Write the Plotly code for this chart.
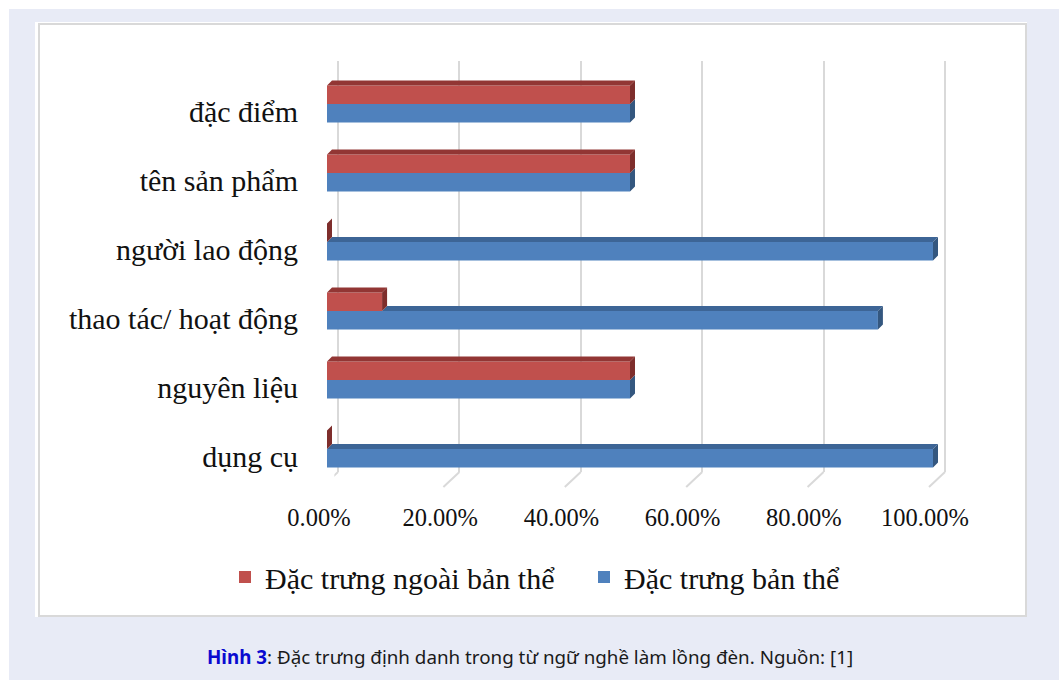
import plotly.graph_objects as go

# ---------------- data ----------------
categories = ["dụng cụ", "nguyên liệu", "thao tác/ hoạt động",
              "người lao động", "tên sản phẩm", "đặc điểm"]
ban_the = [100.0, 50.0, 90.91, 100.0, 50.0, 50.0]        # Đặc trưng bản thể
ngoai_ban_the = [0.0, 50.0, 9.09, 0.0, 50.0, 50.0]      # Đặc trưng ngoài bản thể
tick_values = [0, 20, 40, 60, 80, 100]
tick_labels = ["0.00%", "20.00%", "40.00%", "60.00%", "80.00%", "100.00%"]
name_blue = "Đặc trưng bản thể"
name_red = "Đặc trưng ngoài bản thể"
caption = ("<span style='color:#0A0AD0'><b>Hình 3</b></span>: Đặc trưng định danh "
           "trong từ ngữ nghề làm lồng đèn. Nguồn: [1]")

# ---------------- style ----------------
W, H = 1059, 680
def fx(p): return p / W
def fy(p): return 1 - p / H

RED, RED_TOP, RED_SIDE = "#C0504D", "#923634", "#7E2E2C"
BLUE, BLUE_TOP, BLUE_SIDE = "#4F81BD", "#3D6596", "#34577F"
GRID = "#D9D9D9"
BG = "#E8EBF6"
SERIF = "Liberation Serif"
TXT = "#111111"

PX_PER_UNIT_X = 6.06
PX_PER_UNIT_Y = 69.0
X2_MAX = 102
BARGAP = 0.464
w = (1 - BARGAP) / 2
dx = 5 / PX_PER_UNIT_X
dy = 5 / PX_PER_UNIT_Y
BACK_PX = 6.07
BACK_PAD = 0.6

ypos = list(range(len(categories)))

fig = go.Figure()

# back wall subplot (grid only)
fig.add_trace(go.Scatter(x=[0], y=[0], mode="markers", marker=dict(opacity=0),
                         hoverinfo="skip", showlegend=False, xaxis="x", yaxis="y"))

# bars (front)
fig.add_trace(go.Bar(y=ypos, x=ban_the, orientation="h", name=name_blue,
                     marker=dict(color=BLUE, line=dict(width=0)), legendrank=2,
                     xaxis="x2", yaxis="y2"))
fig.add_trace(go.Bar(y=ypos, x=ngoai_ban_the, orientation="h", name=name_red,
                     marker=dict(color=RED, line=dict(width=0)), legendrank=1,
                     xaxis="x2", yaxis="y2"))

# 3D faces computed from the data
def poly_trace(xs, ys, color):
    return go.Scatter(x=xs, y=ys, mode="none", fill="toself", fillcolor=color,
                      hoverinfo="skip", showlegend=False, xaxis="x2", yaxis="y2")

bt_x, bt_y, bs_x, bs_y = [], [], [], []
rt_x, rt_y, rs_x, rs_y = [], [], [], []
for i, (b, r) in zip(ypos, zip(ban_the, ngoai_ban_the)):
    if b > r:
        top = i
        bt_x += [r, r + dx, b + dx, b, r, None]
        bt_y += [top, top + dy, top + dy, top, top, None]
    lo, hi = i - w, i
    bs_x += [b, b, b + dx, b + dx, b, None]
    bs_y += [lo, hi, hi + dy, lo + dy, lo, None]
    lo, hi = i, i + w
    rt_x += [0, dx, r + dx, r, 0, None]
    rt_y += [hi, hi + dy, hi + dy, hi, hi, None]
    rs_x += [r, r, r + dx, r + dx, r, None]
    rs_y += [lo, hi, hi + dy, lo + dy, lo, None]

fig.add_trace(poly_trace(bt_x, bt_y, BLUE_TOP))
fig.add_trace(poly_trace(bs_x, bs_y, BLUE_SIDE))
fig.add_trace(poly_trace(rt_x, rt_y, RED_TOP))
fig.add_trace(poly_trace(rs_x, rs_y, RED_SIDE))

shapes = [
    dict(type="rect", xref="paper", yref="paper", x0=0, x1=1, y0=fy(0), y1=fy(9),
         fillcolor="white", line=dict(width=0), layer="below"),
    dict(type="rect", xref="paper", yref="paper", x0=0, x1=fx(9), y0=0, y1=1,
         fillcolor="white", line=dict(width=0), layer="below"),
    dict(type="rect", xref="paper", yref="paper", x0=fx(35), x1=fx(1027),
         y0=fy(617), y1=fy(22), fillcolor="white", line=dict(width=0), layer="below"),
    dict(type="rect", xref="paper", yref="paper", x0=fx(39), x1=fx(1026),
         y0=fy(616), y1=fy(24), fillcolor="rgba(0,0,0,0)",
         line=dict(width=2, color=GRID), layer="below"),
]
for v in tick_values:
    shapes.append(dict(type="line", xref="x", xsizemode="pixel", xanchor=v,
                       x0=0, x1=-16, yref="paper", y0=fy(472), y1=fy(487),
                       line=dict(color=GRID, width=2), layer="below"))

fig.update_layout(
    width=W, height=H,
    margin=dict(l=0, r=0, t=0, b=0, autoexpand=False),
    paper_bgcolor=BG, plot_bgcolor="rgba(0,0,0,0)",
    barmode="group", bargap=BARGAP, bargroupgap=0,
    shapes=shapes,
    xaxis=dict(domain=[fx(338 - BACK_PAD * BACK_PX), fx(945 + BACK_PAD * BACK_PX)],
               range=[-BACK_PAD, 100 + BACK_PAD], anchor="y",
               tickvals=tick_values, showticklabels=False, showgrid=True,
               gridcolor=GRID, gridwidth=2, zeroline=False, showline=False, ticks=""),
    yaxis=dict(domain=[fy(472), fy(61)], range=[0, 1], anchor="x",
               visible=False, showgrid=False),
    xaxis2=dict(domain=[fx(327), fx(327 + X2_MAX * PX_PER_UNIT_X)], range=[0, X2_MAX],
                anchor="y2", tickvals=tick_values, ticktext=tick_labels,
                showgrid=False, zeroline=False, showline=False, ticks="",
                tickfont=dict(family=SERIF, size=24.5, color=TXT),
                ticklabelshift=-8, ticklabelstandoff=17),
    yaxis2=dict(domain=[fy(483.5), fy(69.5)], range=[-0.5, 5.5], anchor="x2",
                tickvals=ypos, ticktext=categories, showgrid=False, zeroline=False,
                showline=False, ticks="",
                tickfont=dict(family=SERIF, size=30, color=TXT),
                ticklabelshift=7, ticklabelstandoff=28),
    legend=dict(orientation="h", x=fx(225), xanchor="left", y=fy(577), yanchor="middle",
                font=dict(family=SERIF, size=30, color=TXT), bgcolor="rgba(0,0,0,0)",
                entrywidth=314, entrywidthmode="pixels"),
    annotations=[dict(text=caption, xref="paper", yref="paper", x=0.5, y=fy(657),
                      xanchor="center", yanchor="middle", showarrow=False,
                      font=dict(family="Noto Sans", size=18.8, color="#1A1A1A"))],
)

fig.write_html("out.html")
